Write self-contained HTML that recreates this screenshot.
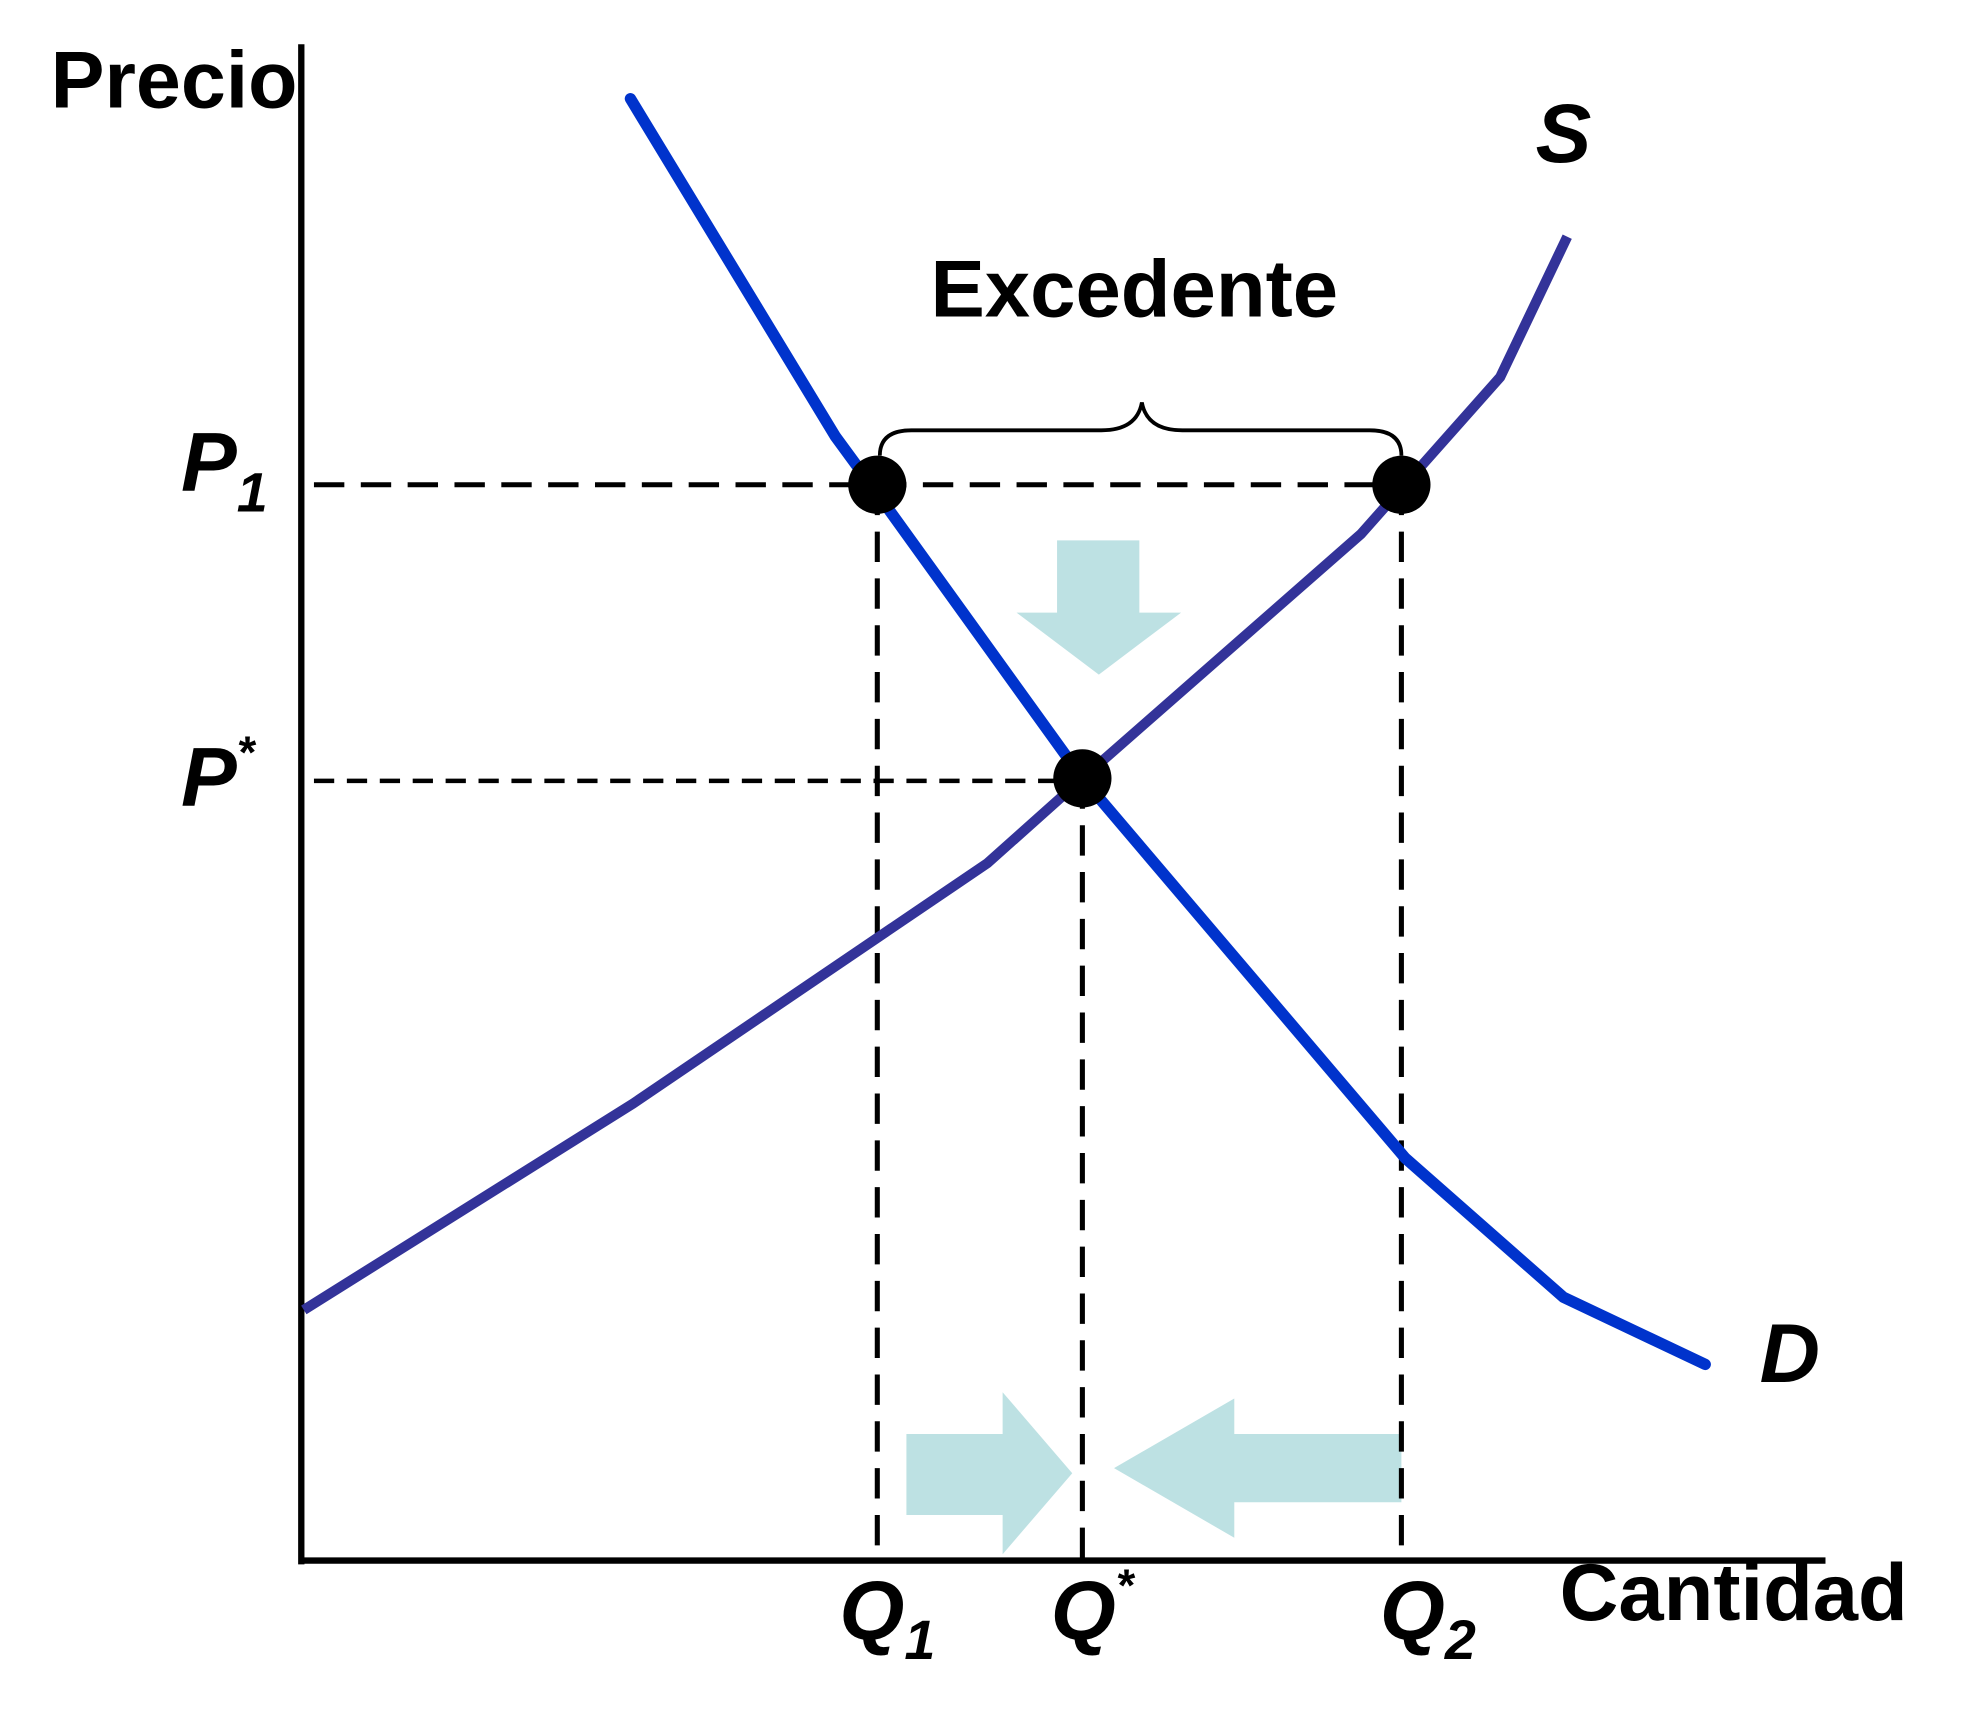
<!DOCTYPE html>
<html><head><style>html,body{margin:0;padding:0;background:#fff}svg{display:block}</style></head><body>
<svg width="1985" height="1720" viewBox="0 0 1568 1359" preserveAspectRatio="none" xmlns="http://www.w3.org/2000/svg" font-family="Liberation Sans, sans-serif" font-weight="bold">
<line x1="238" y1="35" x2="238" y2="1236" stroke="#000" stroke-width="5"/>
<line x1="236" y1="1233" x2="1442" y2="1233" stroke="#000" stroke-width="5"/>
<g fill="#bde1e3">
<polygon points="835,427 900,427 900,484 933,484 868,533 803,484 835,484"/>
<polygon points="716,1133 792,1133 792,1100 847,1164 792,1228 792,1197 716,1197"/>
<polygon points="880,1160 975,1105 975,1133 1107,1133 1107,1187 975,1187 975,1215"/>
</g>
<g stroke="#000" stroke-width="4" stroke-dasharray="24,13" fill="none">
<line x1="248" y1="383" x2="1107" y2="383"/>
<line x1="693" y1="383" x2="693" y2="1232"/>
<line x1="855" y1="615" x2="855" y2="1232"/>
<line x1="1107" y1="383" x2="1107" y2="1232"/>
</g>
<line x1="248" y1="617" x2="855" y2="617" stroke="#000" stroke-width="3.5" stroke-dasharray="16,10"/>
<polyline points="240,1035 500,872 780,682 855,615 1075,422 1185,298 1238,187" fill="none" stroke="#333399" stroke-width="8"/>
<polyline points="498,78 660,345 693,390 855,615 1110,915 1235,1025 1347,1078" fill="none" stroke="#0033cc" stroke-width="9" stroke-linecap="round" stroke-linejoin="round"/>
<path d="M695,360 Q695,340 720,340 L870,340 Q898,340 902,318 Q906,340 934,340 L1082,340 Q1107,340 1107,360" fill="none" stroke="#000" stroke-width="3"/>
<circle cx="693" cy="383" r="23" fill="#000"/>
<circle cx="1107" cy="383" r="23" fill="#000"/>
<circle cx="855" cy="615" r="23" fill="#000"/>
<text x="40" y="85" font-size="64" textLength="195" lengthAdjust="spacingAndGlyphs">Precio</text>
<text x="735" y="250" font-size="64" textLength="322" lengthAdjust="spacingAndGlyphs">Excedente</text>
<text x="1232" y="1280" font-size="64" textLength="275" lengthAdjust="spacingAndGlyphs">Cantidad</text>
<g font-style="italic" font-size="66">
<text x="143" y="388">P<tspan font-size="44" dy="16">1</tspan></text>
<text x="143" y="637">P<tspan font-size="36" dy="-30">*</tspan></text>
<text x="1213" y="128">S</text>
<text x="1390" y="1092">D</text>
<text x="663" y="1295">Q<tspan font-size="44" dy="16">1</tspan></text>
<text x="830" y="1295">Q<tspan font-size="36" dy="-30">*</tspan></text>
<text x="1090" y="1295">Q<tspan font-size="44" dy="16">2</tspan></text>
</g>
</svg>
</body></html>
